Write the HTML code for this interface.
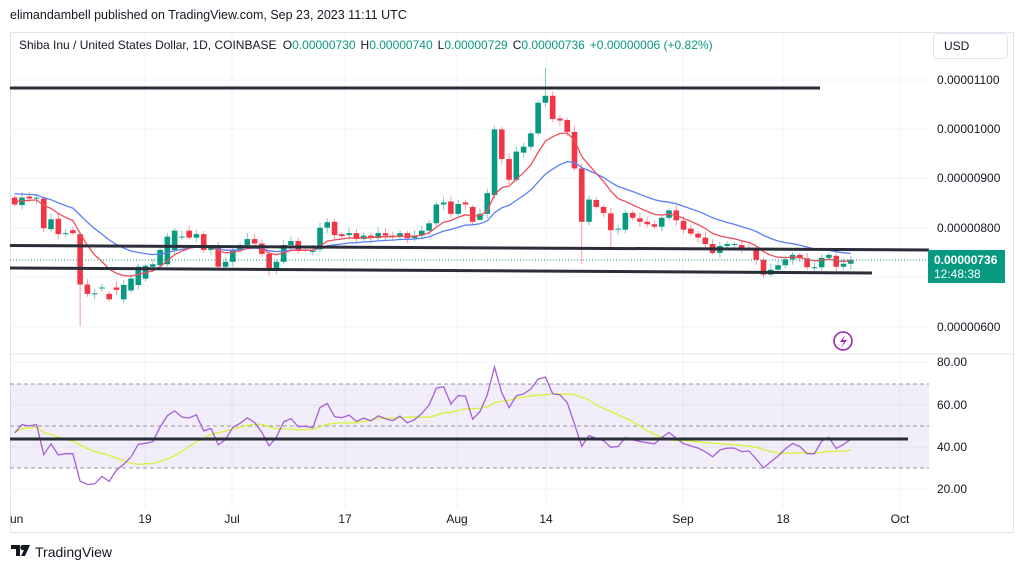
<!DOCTYPE html>
<html><head><meta charset="utf-8"><style>
body{margin:0;background:#fff;width:1024px;height:570px;overflow:hidden;font-family:"Liberation Sans",sans-serif}
svg text{font-family:"Liberation Sans",sans-serif}
</style></head><body>
<svg id="s" width="1024" height="570" xmlns="http://www.w3.org/2000/svg"></svg>
<script>
const O=[862,847,864,860,860,798,819,790,796,788,686,667,680,667,680,656,674,685,698,722,725,727,756,783,795,781,788,756,761,722,732,757,766,778,769,748,715,732,766,774,756,754,757,801,813,788,786,790,778,785,780,790,785,782,790,780,785,795,810,848,854,829,852,843,817,829,867,1000,940,898,953,965,992,1054,1068,1022,1019,995,921,813,857,843,830,797,797,831,820,813,808,803,821,836,815,799,789,781,768,750,764,766,766,760,756,736,706,716,725,737,746,739,719,721,740,744,722,728];
const C=[848,862,860,862,800,818,788,790,790,686,667,668,680,656,675,685,698,722,724,727,756,783,795,783,781,788,756,761,722,732,757,766,778,769,748,715,732,766,774,756,757,754,801,812,786,784,790,778,785,780,790,785,782,790,780,785,795,810,848,852,829,849,848,813,829,871,1000,940,898,955,965,992,1054,1068,1021,1018,995,921,813,858,843,831,796,799,831,821,813,808,803,821,836,816,797,789,781,768,750,764,768,768,758,759,736,706,716,725,737,746,739,721,721,740,746,722,728,736];
const n=Math.min(O.length,C.length);
const X=i=>14.7+i*7.27, Y=p=>80+(1100-p)*0.494;
let s='';
const G='#f0f3fa';
[80,129,178,228,277,327].forEach(y=>s+=`<line x1="10" x2="929" y1="${y}" y2="${y}" stroke="${G}"/>`);
[362,405,447,489].forEach(y=>s+=`<line x1="10" x2="929" y1="${y}" y2="${y}" stroke="${G}"/>`);
[145,232,345,457,546,683,783,900].forEach(x=>s+=`<line x1="${x}" x2="${x}" y1="33" y2="508" stroke="${G}"/>`);
s+=`<rect x="10.5" y="32.5" width="1003" height="500" fill="none" stroke="#e0e3eb"/>`;
s+=`<line x1="10" x2="1013" y1="354" y2="354" stroke="#e0e3eb"/>`;
s+=`<rect x="10" y="384" width="919" height="84" fill="#7e57c2" fill-opacity="0.1"/>`;
[384,426,468].forEach(y=>s+=`<line x1="10" x2="929" y1="${y}" y2="${y}" stroke="#9598a1" stroke-dasharray="4,3"/>`);
function ema(len,seed){let a=2/(len+1),e=seed,r=[];for(let i=0;i<n;i++){e=C[i]*a+e*(1-a);r.push(e);}return r;}
const e1=ema(9,855),e2=ema(21,872);
const pl=arr=>arr.map((v,i)=>`${X(i).toFixed(1)},${Y(v).toFixed(1)}`).join(' ');
for(let i=0;i<n;i++){const o=O[i],c=C[i],up=c>=o,col=up?'#089981':'#f23645';
let hi=Math.max(o,c)+4+(i*7%9),lo=Math.min(o,c)-4-(i*5%8);
if(i==9)lo=602;if(i==73)hi=1125;if(i==78)lo=728;if(i==82)lo=760;if(i==21)hi=790;
const x=X(i);s+=`<line x1="${x}" x2="${x}" y1="${Y(hi)}" y2="${Y(lo)}" stroke="${col}" stroke-opacity="0.5"/>`;
const t=Y(Math.max(o,c)),b=Y(Math.min(o,c));s+=`<rect x="${x-2.8}" y="${t}" width="5.6" height="${Math.max(1,b-t)}" fill="${col}"/>`;}
s+=`<polyline points="${pl(e2)}" fill="none" stroke="#5b7ff5" stroke-width="1.3"/>`;
s+=`<polyline points="${pl(e1)}" fill="none" stroke="#f04d5a" stroke-width="1.3"/>`;
s+=`<line x1="10" x2="820" y1="88" y2="88" stroke="#2a2e39" stroke-width="3"/>`;
s+=`<line x1="10" x2="929" y1="245.5" y2="250" stroke="#2a2e39" stroke-width="3"/>`;
s+=`<line x1="10" x2="872" y1="268" y2="273" stroke="#2a2e39" stroke-width="3"/>`;
s+=`<line x1="10" x2="929" y1="260" y2="260" stroke="#089981" stroke-dasharray="1,2"/>`;
let ag=7,al=8,rs=[];for(let i=0;i<n;i++){const d=i?C[i]-C[i-1]:0;ag=(ag*13+Math.max(d,0))/14;al=(al*13+Math.max(-d,0))/14;rs.push(100-100/(1+ag/al));}
let ma=[];for(let i=0;i<n;i++){let k=Math.max(0,i-13),sm=0;for(let j=k;j<=i;j++)sm+=rs[j];ma.push(sm/(i-k+1));}
const YR=v=>362+(80-v)*2.125;
s+=`<polyline points="${ma.map((v,i)=>X(i).toFixed(1)+','+YR(v).toFixed(1)).join(' ')}" fill="none" stroke="#d7f23a" stroke-width="1.3"/>`;
s+=`<polyline points="${rs.map((v,i)=>X(i).toFixed(1)+','+YR(v).toFixed(1)).join(' ')}" fill="none" stroke="#a55fd6" stroke-width="1.3"/>`;
s+=`<line x1="10" x2="908" y1="439" y2="439" stroke="#2a2e39" stroke-width="3"/>`;
const pt=[[80,'0.00001100'],[129,'0.00001000'],[178,'0.00000900'],[228,'0.00000800'],[327,'0.00000600']];
pt.forEach(([y,t])=>s+=`<text x="937" y="${y+4}" font-size="12" fill="#131722">${t}</text>`);
[[362,'80.00'],[405,'60.00'],[447,'40.00'],[489,'20.00']].forEach(([y,t])=>s+=`<text x="937" y="${y+4}" font-size="12" fill="#131722">${t}</text>`);
[[10,'un'],[145,'19'],[232,'Jul'],[345,'17'],[457,'Aug'],[546,'14'],[683,'Sep'],[783,'18'],[900,'Oct']].forEach(([x,t],k)=>s+=`<text x="${x}" y="523" font-size="12" fill="#131722" ${k?'text-anchor="middle"':''}>${t}</text>`);
s+=`<rect x="928" y="250" width="77" height="33" fill="#089981"/><text x="934" y="264" font-size="12" font-weight="bold" fill="#fff">0.00000736</text><text x="934" y="278" font-size="12" fill="#fff">12:48:38</text>`;
s+=`<rect x="933.5" y="33.5" width="74" height="25" rx="4" fill="#fff" stroke="#e0e3eb"/><text x="944" y="50" font-size="12" fill="#131722">USD</text>`;
s+=`<circle cx="843" cy="341" r="9" fill="none" stroke="#9c27b0" stroke-width="1.6"/><path d="M845 335 L840 342 L844 342 L841 348 L847 340 L843 340 Z" fill="#9c27b0"/>`;
s+=`<text x="10" y="19" font-size="12.5" fill="#131722">elimandambell published on TradingView.com, Sep 23, 2023 11:11 UTC</text>`;
s+=`<text x="19" y="49" font-size="12" fill="#131722">Shiba Inu / United States Dollar, 1D, COINBASE <tspan dx="3">O</tspan><tspan fill="#089981">0.00000730</tspan><tspan dx="5">H</tspan><tspan fill="#089981">0.00000740</tspan><tspan dx="5">L</tspan><tspan fill="#089981">0.00000729</tspan><tspan dx="5">C</tspan><tspan fill="#089981">0.00000736</tspan><tspan dx="5" fill="#089981">+0.00000006 (+0.82%)</tspan></text>`;
s+=`<path d="M11 545h9v11h-4v-7h-5z M22 545h8l-5 11h-4l3-6a2.5 2.5 0 0 1-2-5z" fill="#131722"/><text x="35" y="557" font-size="14" fill="#131722">TradingView</text>`;
document.getElementById('s').innerHTML=s;
</script>
</body></html>
